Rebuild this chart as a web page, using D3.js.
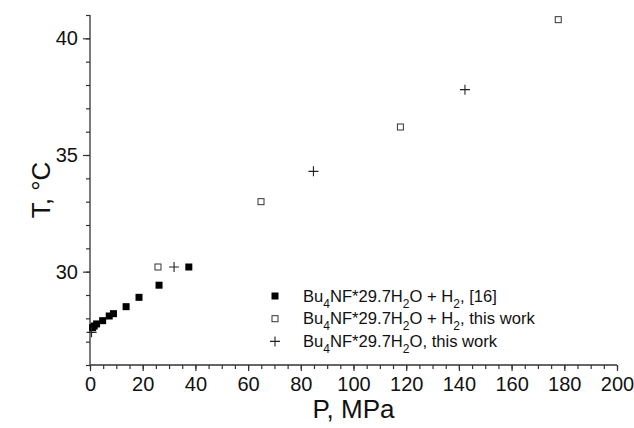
<!DOCTYPE html>
<html>
<head>
<meta charset="utf-8">
<script src="https://cdn.jsdelivr.net/npm/d3@7"></script>
<style>
  html, body { margin: 0; padding: 0; background: #fff; }
  svg { display: block; font-family: "Liberation Sans", Arial, sans-serif; }
</style>
</head>
<body>
<svg id="chart" width="634" height="428"></svg>
<script>
// Bu4NF*29.7H2O + H2 from ref. [16]
const refP = [1.0, 1.6, 2.5, 4.8, 7.3, 8.9, 13.7, 18.6, 26.2, 37.5];
const refT = [27.6, 27.67, 27.76, 27.9, 28.1, 28.2, 28.5, 28.9, 29.42, 30.2];

// Bu4NF*29.7H2O + H2, this work
const gasP = [25.8, 64.9, 117.8, 177.7];
const gasT = [30.2, 33.0, 36.2, 40.8];

// Bu4NF*29.7H2O, this work
const pureP = [0.6, 31.9, 84.8, 142.3];
const pureT = [27.4, 30.2, 34.3, 37.8];

const xMajor = [0, 20, 40, 60, 80, 100, 120, 140, 160, 180, 200];
const yMajor = [30, 35, 40];

const legendItems = [
  { kind: "filled", parts: [["Bu"], ["4", "sub"], ["NF*29.7H"], ["2", "sub"], ["O + H"], ["2", "sub"], [", [16]"]] },
  { kind: "open",   parts: [["Bu"], ["4", "sub"], ["NF*29.7H"], ["2", "sub"], ["O + H"], ["2", "sub"], [", this work"]] },
  { kind: "plus",   parts: [["Bu"], ["4", "sub"], ["NF*29.7H"], ["2", "sub"], ["O, this work"]] }
];

const svg = d3.select("#chart");
const plotLeft = 90, plotRight = 617, plotTop = 15, plotBottom = 365;

const x = d3.scaleLinear().domain([0, 200]).range([plotLeft, plotRight]);
const y = d3.scaleLinear().domain([26, 41]).range([plotBottom, plotTop]);

const axisColor = "#333";
const fontFamily = "Liberation Sans, Arial, sans-serif";

// x axis: minor ticks every 5, labelled majors every 20
const xAxisG = svg.append("g").attr("transform", `translate(0,${plotBottom})`);
xAxisG.call(d3.axisBottom(x).tickValues(d3.range(0, 201, 5)).tickSize(4).tickFormat(""))
  .call(g => g.select(".domain").remove());
xAxisG.append("g").call(d3.axisBottom(x).tickValues(xMajor).tickSize(6).tickPadding(6).tickFormat(d3.format("d")))
  .call(g => g.select(".domain").remove())
  .call(g => g.selectAll("text").attr("font-size", 20).attr("fill", "#111").attr("font-family", fontFamily));
xAxisG.selectAll("line").attr("stroke", axisColor).attr("stroke-width", 1.2);
xAxisG.append("line").attr("x1", plotLeft).attr("x2", plotRight).attr("stroke", axisColor).attr("stroke-width", 1.3);

// y axis: minor ticks every 1, labelled majors every 5
const yAxisG = svg.append("g").attr("transform", `translate(${plotLeft},0)`);
yAxisG.call(d3.axisLeft(y).tickValues(d3.range(26, 41.01, 1)).tickSize(4).tickFormat(""))
  .call(g => g.select(".domain").remove());
yAxisG.append("g").call(d3.axisLeft(y).tickValues(yMajor).tickSize(7).tickPadding(5).tickFormat(d3.format("d")))
  .call(g => g.select(".domain").remove())
  .call(g => g.selectAll("text").attr("font-size", 20).attr("fill", "#111").attr("font-family", fontFamily));
yAxisG.selectAll("line").attr("stroke", axisColor).attr("stroke-width", 1.2);
yAxisG.append("line").attr("y1", plotTop).attr("y2", plotBottom).attr("stroke", axisColor).attr("stroke-width", 1.3);

// axis titles
svg.append("text")
  .attr("x", (plotLeft + plotRight) / 2).attr("y", 418)
  .attr("text-anchor", "middle").attr("font-size", 26).attr("fill", "#111")
  .text("P, MPa");
svg.append("text")
  .attr("transform", `translate(50,${(plotTop + plotBottom) / 2}) rotate(-90)`)
  .attr("text-anchor", "middle").attr("font-size", 26).attr("fill", "#111")
  .text("T, °C");

// marker drawing helper
function drawMarker(g, kind, cx, cy) {
  if (kind === "filled") {
    g.append("rect").attr("x", cx - 3.5).attr("y", cy - 3.5).attr("width", 7).attr("height", 7)
      .attr("fill", "#000");
  } else if (kind === "open") {
    g.append("rect").attr("x", cx - 3).attr("y", cy - 3).attr("width", 6).attr("height", 6)
      .attr("fill", "#fff").attr("stroke", "#333").attr("stroke-width", 1);
  } else {
    g.append("path").attr("d", `M${cx - 5},${cy}H${cx + 5}M${cx},${cy - 5}V${cy + 5}`)
      .attr("stroke", "#222").attr("stroke-width", 1.1).attr("fill", "none");
  }
}

const marks = svg.append("g");
refP.forEach((p, i) => drawMarker(marks, "filled", x(p), y(refT[i])));
gasP.forEach((p, i) => drawMarker(marks, "open", x(p), y(gasT[i])));
pureP.forEach((p, i) => drawMarker(marks, "plus", x(p), y(pureT[i])));

// legend with subscripted formula text
const legend = svg.append("g");
legendItems.forEach((item, i) => {
  const cy = 296 + i * 22.7;
  drawMarker(legend, item.kind, 275, cy);
  const t = legend.append("text").attr("x", 303).attr("y", cy + 5.5)
    .attr("font-size", 16.6).attr("fill", "#111");
  let inSub = false;
  item.parts.forEach(([s, mode]) => {
    const ts = t.append("tspan").text(s);
    if (mode === "sub") {
      ts.attr("font-size", 12).attr("dy", 6);
      inSub = true;
    } else {
      if (inSub) ts.attr("dy", -6);
      inSub = false;
    }
  });
});
</script>
</body>
</html>
